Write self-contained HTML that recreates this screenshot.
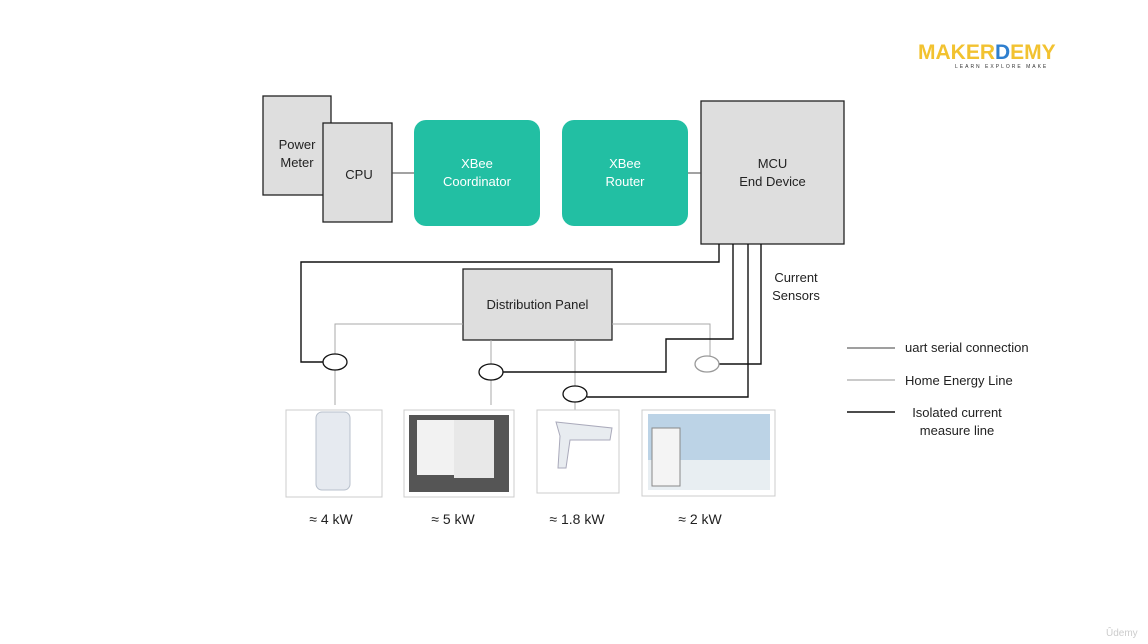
<!DOCTYPE html>
<html><head><style>
body{margin:0;width:1148px;height:644px;background:#fff;overflow:hidden;position:relative;font-family:"Liberation Sans",sans-serif;}
.t{position:absolute;font-size:13px;color:#222;text-align:center;line-height:18px}
</style></head><body>
<svg width="1148" height="644" style="position:absolute;left:0;top:0">
<g stroke="#222" stroke-width="1.3" fill="#dedede">
<rect x="263" y="96" width="68" height="99"/>
<rect x="323" y="123" width="69" height="99"/>
<rect x="701" y="101" width="143" height="143"/>
<rect x="463" y="269" width="149" height="71"/>
</g>
<rect x="414" y="120" width="126" height="106" rx="12" fill="#22bfa3"/>
<rect x="562" y="120" width="126" height="106" rx="12" fill="#22bfa3"/>
<g stroke="#444" stroke-width="1" fill="none">
<line x1="392" y1="173" x2="414" y2="173"/>
<line x1="688" y1="173" x2="701" y2="173"/>
</g>
<g stroke="#aaa" stroke-width="1" fill="none">
<polyline points="463,324 335,324 335,405"/>
<line x1="491" y1="340" x2="491" y2="405"/>
<line x1="575" y1="340" x2="575" y2="410"/>
<polyline points="612,324 710,324 710,356"/>
</g>
<g stroke="#111" stroke-width="1.4" fill="none">
<polyline points="719,244 719,262 301,262 301,362 323,362"/>
<polyline points="733,244 733,339 666,339 666,372 503,372"/>
<polyline points="748,244 748,397 587,397"/>
<polyline points="761,244 761,364 719,364"/>
</g>
<g fill="#fff" stroke-width="1.3">
<ellipse cx="335" cy="362" rx="12" ry="8" stroke="#111"/>
<ellipse cx="491" cy="372" rx="12" ry="8" stroke="#111"/>
<ellipse cx="575" cy="394" rx="12" ry="8" stroke="#111"/>
<ellipse cx="707" cy="364" rx="12" ry="8" stroke="#999"/>
</g>
<g stroke-width="1.2">
<line x1="847" y1="348" x2="895" y2="348" stroke="#666"/>
<line x1="847" y1="380" x2="895" y2="380" stroke="#aaa"/>
<line x1="847" y1="412" x2="895" y2="412" stroke="#111" stroke-width="1.6"/>
</g>
<!-- appliance images -->
<g>
<rect x="286" y="410" width="96" height="87" fill="#fff" stroke="#ccc"/>
<rect x="316" y="412" width="34" height="78" rx="6" fill="#e6eaf0" stroke="#b8c0cc"/>
<rect x="404" y="410" width="110" height="87" fill="#fff" stroke="#ccc"/>
<rect x="409" y="415" width="100" height="77" fill="#555"/>
<rect x="417" y="420" width="38" height="55" fill="#f2f2f2"/>
<rect x="454" y="420" width="40" height="58" fill="#e8e8e8"/>
<rect x="537" y="410" width="82" height="83" fill="#fff" stroke="#ccc"/>
<path d="M556 422 L612 428 L610 440 L570 440 L566 468 L558 468 L560 436 Z" fill="#e8ecf0" stroke="#aab"/>
<rect x="642" y="410" width="133" height="86" fill="#fff" stroke="#ccc"/>
<rect x="648" y="414" width="122" height="76" fill="#bcd3e6"/>
<rect x="648" y="460" width="122" height="30" fill="#e8eef2"/>
<rect x="652" y="428" width="28" height="58" fill="#f4f4f4" stroke="#888"/>
</g>
</svg>
<div class="t" style="left:263px;top:136px;width:68px">Power<br>Meter</div>
<div class="t" style="left:331px;top:166px;width:56px">CPU</div>
<div class="t" style="left:414px;top:155px;width:126px;color:#fff">XBee<br>Coordinator</div>
<div class="t" style="left:562px;top:155px;width:126px;color:#fff">XBee<br>Router</div>
<div class="t" style="left:701px;top:155px;width:143px">MCU<br>End Device</div>
<div class="t" style="left:463px;top:296px;width:149px">Distribution Panel</div>
<div class="t" style="left:766px;top:269px;width:60px">Current<br>Sensors</div>
<div class="t" style="left:905px;top:339px;text-align:left">uart serial connection</div>
<div class="t" style="left:905px;top:372px;text-align:left">Home Energy Line</div>
<div class="t" style="left:900px;top:404px;width:114px">Isolated current<br>measure line</div>
<div class="t" style="left:286px;top:510px;width:90px;font-size:14px">≈ 4 kW</div>
<div class="t" style="left:408px;top:510px;width:90px;font-size:14px">≈ 5 kW</div>
<div class="t" style="left:532px;top:510px;width:90px;font-size:14px">≈ 1.8 kW</div>
<div class="t" style="left:655px;top:510px;width:90px;font-size:14px">≈ 2 kW</div>
<div style="position:absolute;left:918px;top:41px;font-weight:bold;font-size:21px;color:#f2c230;letter-spacing:0px">MAKER<span style="color:#2f7fcf">D</span>EMY</div>
<div style="position:absolute;left:955px;top:64px;font-size:5px;color:#333;letter-spacing:2px">LEARN EXPLORE MAKE</div>
<div style="position:absolute;left:1106px;top:628px;font-size:10px;color:#ccc">Ûdemy</div>
</body></html>
